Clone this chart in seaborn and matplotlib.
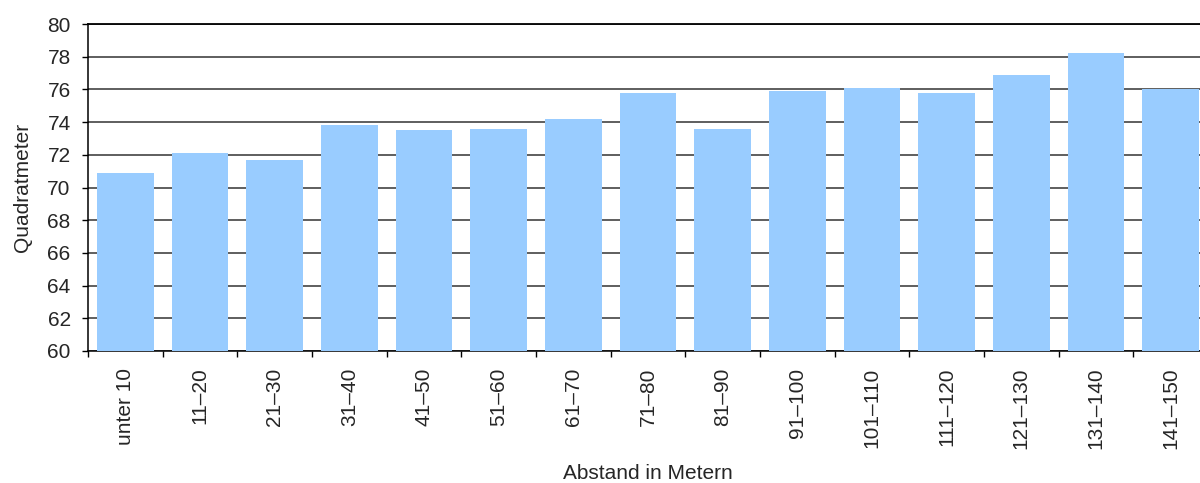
import numpy as np
import pandas as pd
import matplotlib.pyplot as plt
import seaborn as sns

# Abstand in Metern -> Quadratmeter
kategorien = ["unter 10", "11–20", "21–30", "31–40", "41–50", "51–60", "61–70",
              "71–80", "81–90", "91–100", "101–110", "111–120", "121–130",
              "131–140", "141–150"]
werte = [70.9, 72.1, 71.7, 73.8, 73.5, 73.6, 74.2, 75.8, 73.6, 75.9, 76.1,
         75.8, 76.9, 78.2, 76.0]
y_ticks = list(range(60, 81, 2))

df = pd.DataFrame({"abstand": kategorien, "qm": werte})

sns.set_style("white")
plt.rcParams['font.family'] = ['Liberation Sans', 'DejaVu Sans']

fig = plt.figure(figsize=(12, 4.83), dpi=100)
ax = fig.add_axes([88 / 1200, (483 - 351) / 483, 1120 / 1200, 327 / 483])

sns.barplot(data=df, x="abstand", y="qm", color="#99CCFF", saturation=1,
            width=0.76, linewidth=0, ax=ax, zorder=3)

ax.set_ylim(60, 80)
ax.set_xlim(-0.5, len(kategorien) - 0.5)
ax.set_yticks(y_ticks)
ax.yaxis.grid(True, color="#333333", linewidth=1.1, zorder=0)
ax.set_axisbelow(True)

for s in ["left", "bottom"]:
    ax.spines[s].set_color("black")
    ax.spines[s].set_linewidth(1.1)
ax.spines["top"].set_color("black")
ax.spines["top"].set_linewidth(1.3)
ax.spines["right"].set_visible(False)

# y ticks outward
ax.tick_params(axis="y", direction="out", length=4.5, width=1, color="black",
               labelsize=15, pad=8, left=True)
# x: labels at centers, tick marks at boundaries
ax.tick_params(axis="x", which="major", length=0, labelsize=15, pad=12, rotation=90)
ax.set_xticks(np.arange(-0.5, len(kategorien), 1), minor=True)
ax.tick_params(axis="x", which="minor", direction="out", length=4.5, width=1,
               color="black", bottom=True)

ax.set_xlabel("Abstand in Metern", fontsize=15)
ax.set_ylabel("Quadratmeter", fontsize=15)
ax.xaxis.set_label_coords(0.5, -0.345)
ax.yaxis.set_label_coords(-0.05, 0.5)

fig.savefig("out.png", dpi=100)
